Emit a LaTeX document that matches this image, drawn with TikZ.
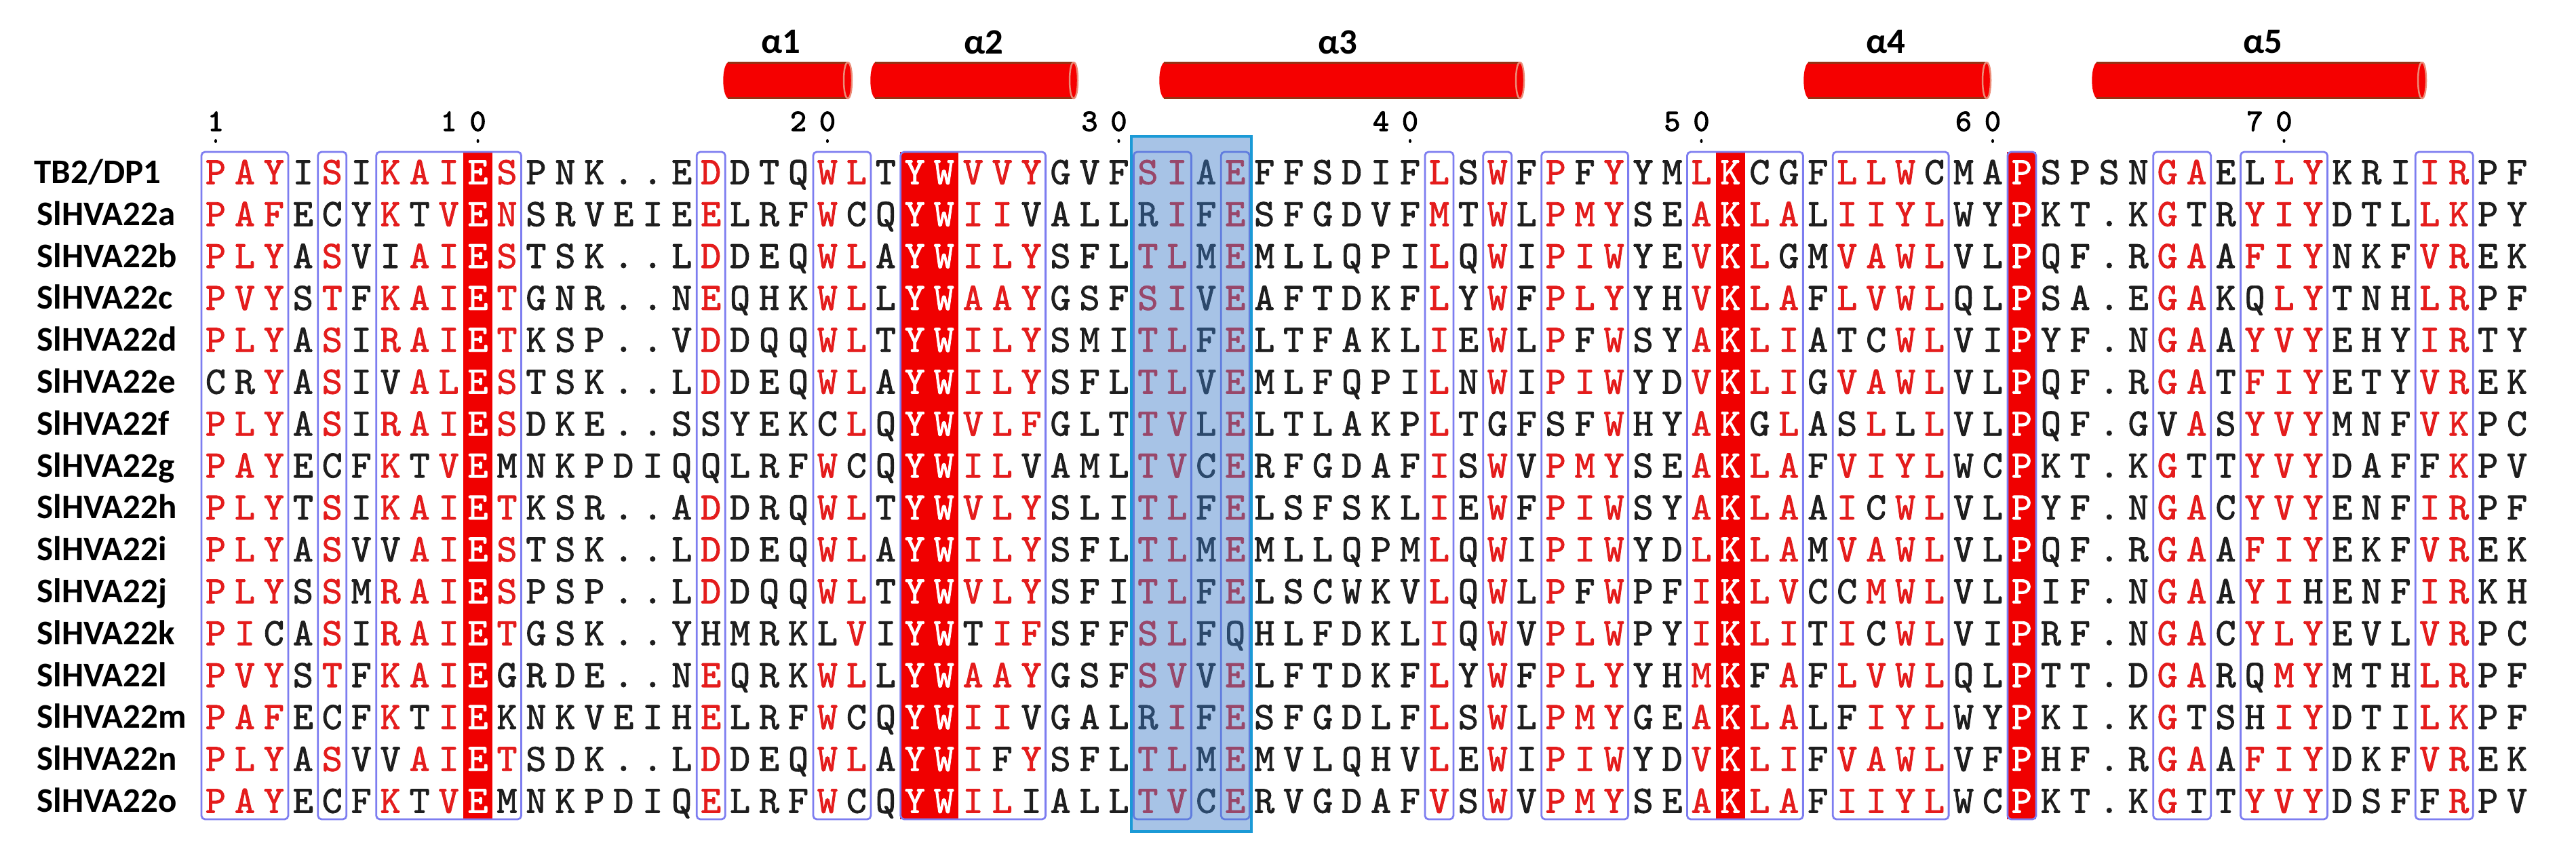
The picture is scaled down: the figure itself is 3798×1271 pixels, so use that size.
\documentclass[tikz,border=0pt]{standalone}
\usepackage{fontspec}
\usepackage{xstring}
\newfontfamily\seqf{lmmono10-regular.otf}[FakeBold=1.5]
\newfontfamily\numf{lmmono10-regular.otf}[FakeBold=2.5]
\newfontfamily\lblf{Carlito}
\definecolor{seqred}{RGB}{228,28,28}
\definecolor{seqblack}{RGB}{30,30,30}
\definecolor{fillred}{RGB}{240,0,0}
\definecolor{framecol}{RGB}{125,125,240}
\definecolor{hlfill}{RGB}{61,124,201}
\definecolor{hlborder}{RGB}{27,154,214}
\definecolor{helixred}{RGB}{245,0,0}
\definecolor{helixedge}{RGB}{150,50,20}
\definecolor{helixface}{RGB}{235,140,120}
\def\redcols{,10,25,26,53,63,}
\def\framedcols{,1,2,3,5,7,8,9,11,18,22,23,27,28,29,33,34,36,43,45,47,48,49,52,54,55,57,58,59,60,68,69,71,72,73,77,78,}
\def\exlist{,1C,2R,3C,5C,7I,7V,8T,11M,11G,11K,18S,18Q,18H,22C,22L,23C,27T,28F,29V,29I,33R,36Q,45G,47S,48F,54C,54G,54F,55G,57T,57S,57C,57F,58C,59L,60C,68V,69T,71L,71Q,71H,73H,77F,}
\begin{document}
\begin{tikzpicture}[x=0.01cm,y=-0.01cm,
  seq/.style={font=\seqf\fontsize{16.3}{16.3}\selectfont, inner sep=0pt, anchor=base},
  numtxt/.style={font=\numf\fontsize{13}{13}\selectfont, inner sep=0pt, anchor=base, text=black},
  rowlab/.style={font=\lblf\bfseries\fontsize{14.5}{14.5}\selectfont, inner sep=0pt, anchor=base west, text=black},
  alab/.style={font=\lblf\bfseries\fontsize{15}{15}\selectfont, inner sep=0pt, anchor=center, text=black},
  frame/.style={draw=framecol, line width=0.8pt, rounded corners=1.5pt},
  redfill/.style={fill=fillred},
  hbody/.style={fill=helixred},
  hedge/.style={draw=helixedge, line width=0.6pt},
  hface/.style={draw=helixface, line width=0.7pt}]
\useasboundingbox (0,0) rectangle (3798,1271);
\fill[white] (0,0) rectangle (3798,1271);
% red (identical) columns
\foreach \a/\b in {10/10,25/26,53/53,63/63} {
  \pgfmathsetmacro\xa{318+(\a-1)*42.95-21.5}
  \pgfmathsetmacro\xb{318+(\b-1)*42.95+21.5}
  \fill[redfill] (\xa,224) rectangle (\xb,1208);
}
% similarity frames
\foreach \a/\b in {1/3,5/5,7/11,18/18,22/23,25/29,33/34,36/36,43/43,45/45,47/49,52/55,57/60,63/63,68/69,71/73,77/78} {
  \pgfmathsetmacro\xa{318+(\a-1)*42.95-21}
  \pgfmathsetmacro\xb{318+(\b-1)*42.95+21}
  \draw[frame] (\xa,224) rectangle (\xb,1208);
}
% sequences
\foreach \seq [count=\r from 0] in {
PAYISIKAIESPNK..EDDTQWLTYWVVYGVFSIAEFFSDIFLSWFPFYYMLKCGFLLWCMAPSPSNGAELLYKRIIRPF,
PAFECYKTVENSRVEIEELRFWCQYWIIVALLRIFESFGDVFMTWLPMYSEAKLALIIYLWYPKT.KGTRYIYDTLLKPY,
PLYASVIAIESTSK..LDDEQWLAYWILYSFLTLMEMLLQPILQWIPIWYEVKLGMVAWLVLPQF.RGAAFIYNKFVREK,
PVYSTFKAIETGNR..NEQHKWLLYWAAYGSFSIVEAFTDKFLYWFPLYYHVKLAFLVWLQLPSA.EGAKQLYTNHLRPF,
PLYASIRAIETKSP..VDDQQWLTYWILYSMITLFELTFAKLIEWLPFWSYAKLIATCWLVIPYF.NGAAYVYEHYIRTY,
CRYASIVALESTSK..LDDEQWLAYWILYSFLTLVEMLFQPILNWIPIWYDVKLIGVAWLVLPQF.RGATFIYETYVREK,
PLYASIRAIESDKE..SSYEKCLQYWVLFGLTTVLELTLAKPLTGFSFWHYAKGLASLLLVLPQF.GVASYVYMNFVKPC,
PAYECFKTVEMNKPDIQQLRFWCQYWILVAMLTVCERFGDAFISWVPMYSEAKLAFVIYLWCPKT.KGTTYVYDAFFKPV,
PLYTSIKAIETKSR..ADDRQWLTYWVLYSLITLFELSFSKLIEWFPIWSYAKLAAICWLVLPYF.NGACYVYENFIRPF,
PLYASVVAIESTSK..LDDEQWLAYWILYSFLTLMEMLLQPMLQWIPIWYDLKLAMVAWLVLPQF.RGAAFIYEKFVREK,
PLYSSMRAIESPSP..LDDQQWLTYWVLYSFITLFELSCWKVLQWLPFWPFIKLVCCMWLVLPIF.NGAAYIHENFIRKH,
PICASIRAIETGSK..YHMRKLVIYWTIFSFFSLFQHLFDKLIQWVPLWPYIKLITICWLVIPRF.NGACYLYEVLVRPC,
PVYSTFKAIEGRDE..NEQRKWLLYWAAYGSFSVVELFTDKFLYWFPLYYHMKFAFLVWLQLPTT.DGARQMYMTHLRPF,
PAFECFKTIEKNKVEIHELRFWCQYWIIVGALRIFESFGDLFLSWLPMYGEAKLALFIYLWYPKI.KGTSHIYDTILKPF,
PLYASVVAIETSDK..LDDEQWLAYWIFYSFLTLMEMVLQHVLEWIPIWYDVKLIFVAWLVFPHF.RGAAFIYDKFVREK,
PAYECFKTVEMNKPDIQELRFWCQYWILIALLTVCERVGDAFVSWVPMYSEAKLAFIIYLWCPKT.KGTTYVYDSFFRPV} {
  \pgfmathsetmacro\yy{254+61.8*\r+17.5}
  \foreach \c in {1,...,80} {
    \StrChar{\seq}{\c}[\ch]%
    \def\cc{seqblack}%
    \IfSubStr{\redcols}{,\c,}{\def\cc{white}}{%
      \IfSubStr{\framedcols}{,\c,}{%
        \IfSubStr{\exlist}{,\c\ch,}{}{\def\cc{seqred}}}{}}%
    \pgfmathsetmacro\xx{318+(\c-1)*42.95}
    \node[seq, text=\cc] (s-\r-\c) at (\xx,\yy) {\ch};
  }
}
% row labels
\node[rowlab] (lab0) at (50,270.5) {TB2/DP1};
\foreach \nm [count=\r from 1] in {SlHVA22a,SlHVA22b,SlHVA22c,SlHVA22d,SlHVA22e,SlHVA22f,SlHVA22g,SlHVA22h,SlHVA22i,SlHVA22j,SlHVA22k,SlHVA22l,SlHVA22m,SlHVA22n,SlHVA22o} {
  \pgfmathsetmacro\yy{254+61.8*\r+16.5}
  \node[rowlab] (lab\r) at (54,\yy) {\nm};
}
% highlighted region
\fill[hlfill, fill opacity=0.45] (1668,201) rectangle (1845,1226);
\draw[hlborder, line width=1.4pt] (1668,201) rectangle (1845,1226);
% numbering
\foreach \d/\c [count=\i] in {1/1,1/9,0/10,2/21,0/22,3/31,0/32,4/41,0/42,5/51,0/52,6/61,0/62,7/71,0/72} {
  \pgfmathsetmacro\xx{318+(\c-1)*42.95}
  \node[numtxt] (n\i) at (\xx,193) {\d};
}
\foreach \c in {1,10,22,32,42,52,62,72} {
  \pgfmathsetmacro\xx{318+(\c-1)*42.95}
  \fill[black] (\xx,208) ellipse [x radius=0.02cm, y radius=0.03cm];
}
% helices
\foreach \a/\b/\hn/\lx in {1066/1250/1/1151,1283/1583/2/1450,1709/2241/3/1972,2659/2929/4/2780,3084/3571/5/3336} {
  \fill[hbody] (\a+7,92) -- (\b,92) .. controls (\b+8,92) and (\b+8,145) .. (\b,145) -- (\a+7,145) .. controls (\a-2,138) and (\a-2,99) .. cycle;
  \draw[hedge] (\a+7,92.5) -- (\b,92.5);
  \draw[hedge] (\a+7,144.5) -- (\b,144.5);
  \draw[hface] (\b,92) .. controls (\b+8,92) and (\b+8,145) .. (\b,145) .. controls (\b-8,145) and (\b-8,92) .. (\b,92);
  \node[alab] (h\hn) at (\lx,62) {α\hn};
}
\end{tikzpicture}
\end{document}
